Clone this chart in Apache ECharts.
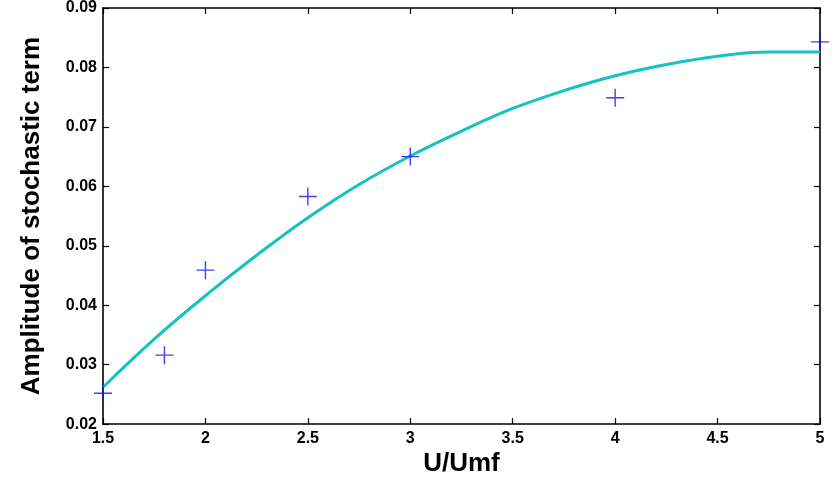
<!DOCTYPE html>
<html>
<head>
<meta charset="utf-8">
<script src="https://cdn.jsdelivr.net/npm/echarts@6/dist/echarts.min.js"></script>
<style>
    html, body { margin: 0; padding: 0; background: #fff; }
    #chart { width: 837px; height: 482px; }
</style>
</head>
<body>
<div id="chart"></div>
<script>
// measured points (plus markers)
var measX = [1.5, 1.8, 2.0, 2.5, 3.0, 4.0, 5.0];
var measY = [0.0252, 0.0316, 0.0459, 0.0583, 0.0650, 0.0749, 0.0843];

// fitted curve
var fitX = [1.5, 1.75, 2.0, 2.25, 2.5, 2.75, 3.0, 3.25, 3.5, 3.75, 4.0, 4.25, 4.5, 4.75, 5.0];
var fitY = [0.0262, 0.0343, 0.0416, 0.0484, 0.0547, 0.0603, 0.0651, 0.0693, 0.0731, 0.0761, 0.0786, 0.0805, 0.0819, 0.0826, 0.0826];

var xTitle = 'U/Umf';
var yTitle = 'Amplitude of stochastic term';

function zip(a, b) {
    var out = [];
    for (var i = 0; i < a.length; i++)
        out.push([a[i], b[i]]);
    return out;
}

var plus = 'path://M0,8.3H8.3V0H9.7V8.3H18V9.7H9.7V18H8.3V9.7H0Z';
var font = 'Liberation Sans, Arial, sans-serif';

function boxAxis(pos, isX, main) {
    var a = {
        type: 'value',
        position: pos,
        axisLine: { show: true, onZero: false, lineStyle: { color: '#000', width: 1.6 } },
        axisTick: { show: true, inside: true, length: 6, lineStyle: { color: '#000', width: 1.2 } },
        splitLine: { show: false },
        axisLabel: { show: false }
    };
    if (isX) {
        a.min = 1.5; a.max = 5; a.interval = 0.5;
    } else {
        a.min = 0.02; a.max = 0.09; a.interval = 0.01;
    }
    if (main) {
        a.axisLabel = {
            show: true,
            color: '#000',
            fontFamily: font,
            fontWeight: 'bold',
            fontSize: 16,
            margin: 6,
            formatter: isX ? function(v) { return String(Math.round(v * 10) / 10); }
                           : function(v) { return v.toFixed(2); }
        };
        a.name = isX ? xTitle : yTitle;
        a.nameLocation = 'middle';
        a.nameGap = isX ? 24 : 58;
        a.nameTextStyle = { color: '#000', fontFamily: font, fontWeight: 'bold', fontSize: 26 };
    }
    return a;
}

var chart = echarts.init(document.getElementById('chart'));
chart.setOption({
    animation: false,
    backgroundColor: '#fff',
    grid: { left: 103, right: 17, top: 7, bottom: 51 },
    xAxis: [boxAxis('bottom', true, true), boxAxis('top', true, false)],
    yAxis: [boxAxis('left', false, true), boxAxis('right', false, false)],
    series: [
        {
            type: 'line',
            data: zip(fitX, fitY),
            smooth: 0.4,
            showSymbol: false,
            lineStyle: { color: '#12C3C0', width: 3 },
            z: 2
        },
        {
            type: 'scatter',
            data: zip(measX, measY),
            symbol: plus,
            symbolSize: 18,
            itemStyle: { color: '#1010f0' },
            z: 3
        }
    ]
});
</script>
</body>
</html>
